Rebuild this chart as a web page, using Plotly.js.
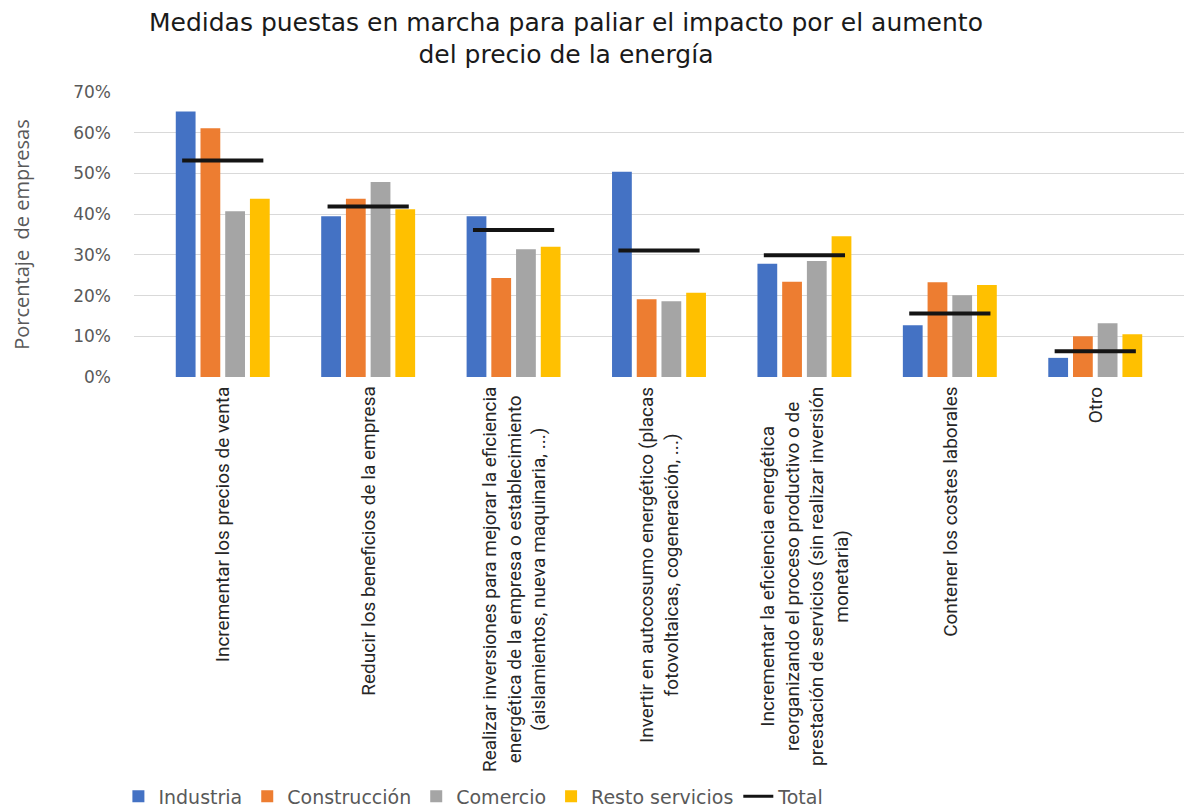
<!DOCTYPE html>
<html>
<head>
<meta charset="utf-8">
<script src="https://cdn.plot.ly/plotly-3.0.1.min.js"></script>
<style>html,body{margin:0;padding:0;background:#fff;}#chart{width:1184px;height:807px;}</style>
</head>
<body>
<div id="chart"></div>
<script>
const categories = [
  "Incrementar los precios de venta",
  "Reducir los beneficios de la empresa",
  "Realizar inversiones para mejorar la eficiencia<br>energética de la empresa o establecimiento<br>(aislamientos, nueva maquinaria, ...)",
  "Invertir en autocosumo energético (placas<br>fotovoltaicas, cogeneración, ...)",
  "Incrementar la eficiencia energética<br>reorganizando el proceso productivo o de<br>prestación de servicios (sin realizar inversión<br>monetaria)",
  "Contener los costes laborales",
  "Otro"
];
const industria     = [0.652, 0.395, 0.395, 0.504, 0.278, 0.127, 0.047];
const construccion  = [0.611, 0.438, 0.243, 0.191, 0.234, 0.233, 0.100];
const comercio      = [0.407, 0.479, 0.314, 0.186, 0.285, 0.201, 0.132];
const restoServicios= [0.438, 0.412, 0.320, 0.207, 0.346, 0.226, 0.105];
const total         = [0.532, 0.419, 0.361, 0.311, 0.299, 0.156, 0.063];
const seriesNames = ["Industria", "Construcción", "Comercio", "Resto servicios", "Total"];
const yTickVals = [0, 0.1, 0.2, 0.3, 0.4, 0.5, 0.6, 0.7];

const colors = ["#4472C4", "#ED7D31", "#A5A5A5", "#FFC000"];
const totalColor = "#141414";
const barSeries = [industria, construccion, comercio, restoServicios];

const traces = barSeries.map((vals, i) => ({
  type: "bar",
  name: seriesNames[i],
  x: categories,
  y: vals,
  marker: {color: colors[i]},
  hoverinfo: "skip"
}));
traces.push({
  type: "scatter",
  mode: "markers",
  name: seriesNames[4],
  x: categories,
  y: total,
  showlegend: false,
  marker: {symbol: "line-ew", size: 58, color: totalColor, line: {color: totalColor, width: 4}},
  hoverinfo: "skip"
});
// legend entry for Total (line swatch)
traces.push({
  type: "scatter",
  mode: "lines",
  name: seriesNames[4],
  x: [null], y: [null],
  line: {color: totalColor, width: 3},
  showlegend: true,
  hoverinfo: "skip"
});

const annotations = categories.map(c => ({
  x: c, xref: "x",
  y: 0, yref: "paper",
  yanchor: "top", xanchor: "center",
  yshift: -8,
  text: c,
  textangle: -90,
  align: "center",
  showarrow: false,
  font: {family: "Liberation Sans Narrow, Roboto, sans-serif", size: 19, color: "#262626"}
}));

const layout = {
  width: 1184, height: 807,
  margin: {l: 134, r: 0, t: 92, b: 430},
  paper_bgcolor: "#fff", plot_bgcolor: "#fff",
  title: {
    text: "Medidas puestas en marcha para paliar el impacto por el aumento<br>del precio de la energía",
    x: 0.478, xref: "container", xanchor: "center",
    y: 0.962, yref: "container", yanchor: "top",
    font: {family: "DejaVu Sans, sans-serif", size: 25, color: "#1a1a1a"}
  },
  barmode: "group",
  bargap: 0.32,
  bargroupgap: 0.2,
  xaxis: {
    type: "category",
    showticklabels: false,
    showgrid: false, zeroline: false, showline: false, ticks: ""
  },
  yaxis: {
    range: [0, 0.7],
    tickvals: yTickVals,
    tickformat: ".0%",
    showgrid: true, gridcolor: "#d9d9d9", gridwidth: 1,
    zeroline: false, showline: false, ticks: "",
    ticklabelstandoff: 22,
    tickfont: {family: "DejaVu Sans, sans-serif", size: 17, color: "#595959"},
    title: {text: "Porcentaje  de empresas", standoff: 38,
            font: {family: "Open Sans, sans-serif", size: 20, color: "#595959"}}
  },
  showlegend: true,
  legend: {
    orientation: "h",
    x: 0.1, xref: "container", xanchor: "left",
    y: 0.013, yref: "container", yanchor: "middle",
    itemwidth: 30,
    font: {family: "DejaVu Sans, sans-serif", size: 19, color: "#595959"},
    traceorder: "normal"
  },
  annotations: annotations
};

Plotly.newPlot("chart", traces, layout, {displayModeBar: false, staticPlot: true});
</script>
</body>
</html>
